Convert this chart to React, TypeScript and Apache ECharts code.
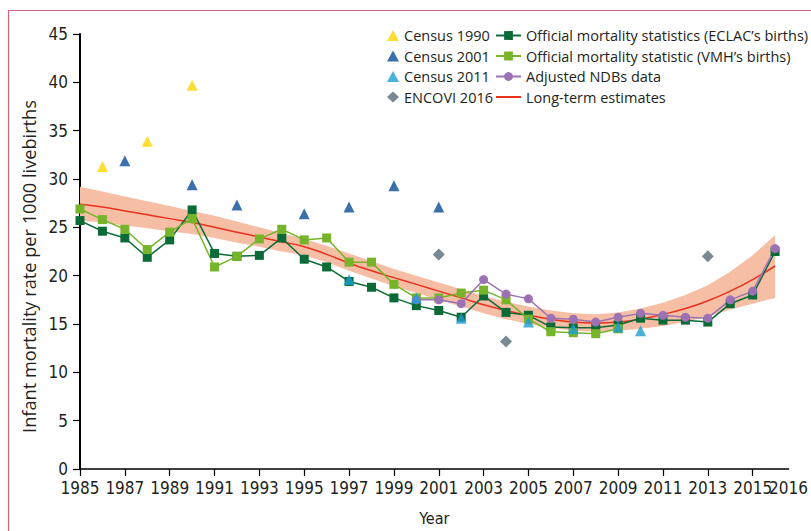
import React, { useEffect, useRef } from "react";
import * as echarts from "echarts";

const BASE_YEAR = 1985;
const X_END_OFFSET = 31.6; // axis runs slightly beyond 2016

const yearsFrom = (start: number, end: number) => {
  const out: number[] = [];
  for (let y = start; y <= end; y++) out.push(y);
  return out;
};

// Census / survey points
const census1990Years = [1986, 1988, 1990];
const census1990Values = [31.3, 33.9, 39.7];
const census2001Years = [1987, 1990, 1992, 1995, 1997, 1999, 2001];
const census2001Values = [31.9, 29.4, 27.3, 26.4, 27.1, 29.3, 27.1];
const census2011Years = [1997, 2000, 2002, 2005, 2007, 2009, 2010];
const census2011Values = [19.6, 17.7, 15.6, 15.2, 14.5, 14.7, 14.3];
const encoviYears = [2001, 2004, 2013];
const encoviValues = [22.2, 13.2, 22.0];

// Official statistics (ECLAC's births) 1985-2016
const eclacYears = yearsFrom(1985, 2016);
const eclacValues = [
  25.7, 24.6, 23.9, 21.9, 23.7, 26.8, 22.3, 22.0, 22.1, 23.9, 21.7, 20.9, 19.4, 18.8, 17.7, 16.9,
  16.4, 15.7, 17.9, 16.2, 15.9, 14.7, 14.6, 14.6, 14.9, 15.6, 15.4, 15.4, 15.2, 17.1, 18.0, 22.5,
];

// Official statistic (VMH's births) 1985-2009
const vmhYears = yearsFrom(1985, 2009);
const vmhValues = [
  26.9, 25.8, 24.8, 22.7, 24.5, 25.9, 20.9, 22.0, 23.8, 24.8, 23.7, 23.9, 21.4, 21.4, 19.1, 17.7,
  17.7, 18.2, 18.5, 17.5, 15.5, 14.2, 14.1, 14.0, 14.5,
];

// Adjusted NDBs data 2000-2016
const ndbYears = yearsFrom(2000, 2016);
const ndbValues = [
  17.5, 17.5, 17.1, 19.6, 18.1, 17.6, 15.6, 15.5, 15.2, 15.7, 16.1, 15.9, 15.7, 15.6, 17.5, 18.4, 22.8,
];

// Long-term estimates with uncertainty band 1985-2016
const estYears = yearsFrom(1985, 2016);
const estValues = [
  27.4, 27.1, 26.7, 26.3, 25.9, 25.5, 25.0, 24.5, 24.0, 23.5, 23.0, 22.2, 21.3, 20.5, 19.8, 19.1,
  18.4, 17.7, 17.0, 16.4, 15.9, 15.5, 15.2, 15.1, 15.2, 15.5, 16.0, 16.6, 17.4, 18.4, 19.6, 21.0,
];
const estLower = [
  25.7, 25.5, 25.2, 24.9, 24.6, 24.3, 23.9, 23.4, 23.0, 22.5, 22.1, 21.4, 20.5, 19.7, 18.9, 18.2,
  17.5, 16.8, 16.1, 15.5, 15.0, 14.6, 14.3, 14.2, 14.3, 14.5, 14.8, 15.2, 15.8, 16.5, 17.1, 17.7,
];
const estUpper = [
  29.2, 28.7, 28.2, 27.7, 27.2, 26.7, 26.2, 25.6, 25.0, 24.4, 23.8, 23.1, 22.3, 21.5, 20.7, 20.0,
  19.3, 18.6, 17.9, 17.3, 16.8, 16.4, 16.1, 16.0, 16.2, 16.6, 17.2, 18.0, 19.0, 20.4, 22.1, 24.2,
];

const yTicks = { min: 0, max: 45, interval: 5 };

const COLORS = {
  eclac: "#0b6b37",
  vmh: "#76b52a",
  ndb: "#9c72b4",
  est: "#e8321e",
  band: "#f6bea4",
  c1990: "#ffd500",
  c2001: "#0b4c99",
  c2011: "#1d9dd3",
  encovi: "#566c79",
  frame: "#d8607f",
};

const pts = (years: number[], values: number[]) =>
  years.map((y, i) => [y - BASE_YEAR, values[i]]);

const AXIS_FONT = "'Liberation Sans Narrow', 'DejaVu Sans Condensed', sans-serif";
const TEXT_FONT = "'Open Sans', 'Noto Sans', sans-serif";

export default function App() {
  const ref = useRef<HTMLDivElement>(null);

  useEffect(() => {
    if (!ref.current) return;
    const chart = echarts.init(ref.current, undefined, { renderer: "svg" });

    const lineSeries = (name: string, years: number[], values: number[], color: string, symbol: string, size: number) => ({
      name,
      type: "line",
      data: pts(years, values),
      symbol,
      symbolSize: size,
      showSymbol: true,
      lineStyle: { color, width: 1.5 },
      itemStyle: { color },
      z: 4,
    });
    const scatterSeries = (name: string, years: number[], values: number[], color: string, symbol: string, size: number) => ({
      name,
      type: "scatter",
      data: pts(years, values),
      symbol,
      symbolSize: size,
      itemStyle: { color },
      z: 6,
    });

    const legendText = { fontFamily: TEXT_FONT, fontSize: 14.5, color: "#231f20" };
    const xLabelBase = {
      margin: 10,
      fontFamily: AXIS_FONT,
      fontSize: 17,
      color: "#231f20",
    };

    chart.setOption({
      animation: false,
      backgroundColor: "#ffffff",
      textStyle: { fontFamily: TEXT_FONT },
      graphic: [
        {
          type: "rect",
          shape: { x: 8.5, y: 10.5, width: 900, height: 600 },
          style: { fill: "none", stroke: COLORS.frame, lineWidth: 1.2 },
          silent: true,
          z: -10,
        },
      ],
      grid: { left: 80, top: 34, width: 711, height: 437, containLabel: false },
      legend: [
        {
          orient: "vertical",
          left: 387,
          top: 28,
          padding: 0,
          itemWidth: 12,
          itemHeight: 11,
          itemGap: 5.5,
          textStyle: legendText,
          data: ["Census 1990", "Census 2001", "Census 2011", "ENCOVI 2016"],
        },
        {
          orient: "vertical",
          left: 495,
          top: 28,
          padding: 0,
          itemWidth: 25,
          itemHeight: 11,
          itemGap: 5.5,
          textStyle: legendText,
          data: [
            "Official mortality statistics (ECLAC\u2019s births)",
            "Official mortality statistic (VMH\u2019s births)",
            "Adjusted NDBs data",
            {
              name: "Long-term estimates",
              itemStyle: { color: "rgba(0,0,0,0)", opacity: 0, borderWidth: 0 },
            },
          ],
        },
      ],
      xAxis: [
        {
          type: "value",
          position: "bottom",
          min: 0,
          max: X_END_OFFSET,
          interval: 2,
          name: "Year",
          nameLocation: "middle",
          nameGap: 41,
          nameTextStyle: { fontFamily: AXIS_FONT, fontSize: 16, color: "#231f20" },
          axisLine: { show: true, onZero: false, lineStyle: { color: "#000", width: 1.5 } },
          axisTick: { show: true, length: 7, lineStyle: { color: "#000", width: 1.2 } },
          splitLine: { show: false },
          axisLabel: {
            ...xLabelBase,
            showMinLabel: true,
            showMaxLabel: false,
            formatter: (v: number) => String(Math.floor(v + BASE_YEAR + 1e-6)),
          },
        },
        {
          // overlay axis carrying only the end label "2016"
          type: "value",
          position: "bottom",
          min: 0,
          max: X_END_OFFSET,
          interval: 2,
          axisLine: { show: false, onZero: false },
          axisTick: { show: false },
          splitLine: { show: false },
          axisLabel: {
            ...xLabelBase,
            showMinLabel: false,
            showMaxLabel: true,
            formatter: (v: number) => (v > X_END_OFFSET - 0.01 ? String(BASE_YEAR + 31) : ""),
          },
        },
      ],
      yAxis: {
        type: "value",
        min: yTicks.min,
        max: yTicks.max,
        interval: yTicks.interval,
        name: "Infant mortality rate per 1000 livebirths",
        nameLocation: "middle",
        nameGap: 40,
        nameRotate: 90,
        nameTextStyle: {
          fontFamily: TEXT_FONT,
          fontSize: 18.2,
          color: "#231f20",
          padding: [0, 30, 0, 0],
        },
        axisLine: { show: true, lineStyle: { color: "#000", width: 2 } },
        axisTick: { show: true, length: 7, lineStyle: { color: "#000", width: 1.2 } },
        splitLine: { show: false },
        axisLabel: { margin: 12, fontFamily: AXIS_FONT, fontSize: 17, color: "#231f20" },
      },
      series: [
        {
          name: "_band",
          type: "custom",
          data: estYears.map((y, i) => [y - BASE_YEAR, estLower[i], estUpper[i]]),
          encode: { x: 0, y: [1, 2] },
          silent: true,
          z: 1,
          renderItem: (params: any, api: any) => {
            if (params.dataIndex !== 0) return null;
            const n = estYears.length;
            const upper: number[][] = [];
            const lower: number[][] = [];
            for (let i = 0; i < n; i++) {
              const x = api.value(0, i);
              upper.push(api.coord([x, api.value(2, i)]));
              lower.push(api.coord([x, api.value(1, i)]));
            }
            return {
              type: "polygon",
              shape: { points: upper.concat(lower.reverse()) },
              style: { fill: COLORS.band, stroke: "none" },
              silent: true,
            };
          },
        },
        {
          name: "Long-term estimates",
          type: "line",
          data: pts(estYears, estValues),
          symbol: "none",
          smooth: true,
          lineStyle: { color: COLORS.est, width: 1.5 },
          itemStyle: { color: COLORS.est },
          z: 3,
        },
        lineSeries("Official mortality statistics (ECLAC\u2019s births)", eclacYears, eclacValues, COLORS.eclac, "rect", 9),
        lineSeries("Official mortality statistic (VMH\u2019s births)", vmhYears, vmhValues, COLORS.vmh, "rect", 9),
        lineSeries("Adjusted NDBs data", ndbYears, ndbValues, COLORS.ndb, "circle", 9),
        scatterSeries("Census 1990", census1990Years, census1990Values, COLORS.c1990, "triangle", 11),
        scatterSeries("Census 2001", census2001Years, census2001Values, COLORS.c2001, "triangle", 11),
        scatterSeries("Census 2011", census2011Years, census2011Values, COLORS.c2011, "triangle", 11),
        scatterSeries("ENCOVI 2016", encoviYears, encoviValues, COLORS.encovi, "diamond", 12),
      ],
    });

    return () => chart.dispose();
  }, []);

  return (
    <div
      ref={ref}
      style={{ position: "fixed", left: 0, top: 0, width: 811, height: 531, background: "#fff" }}
    />
  );
}
